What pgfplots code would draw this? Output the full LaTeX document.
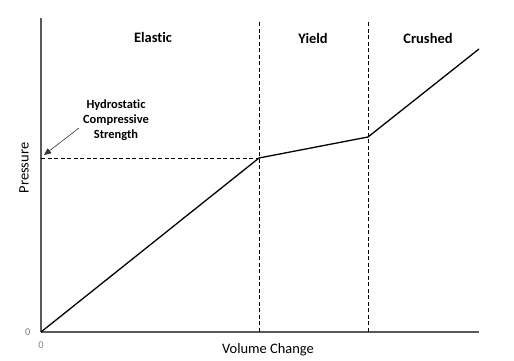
\documentclass[border=0pt]{standalone}
\usepackage{pgfplots}
\pgfplotsset{compat=1.18}
\usetikzlibrary{arrows.meta}
\usepackage{fontspec}
\setmainfont{Carlito}[Ligatures=NoCommon]
\begin{document}
\begin{tikzpicture}
\useasboundingbox (-41bp,-29bp) rectangle (473bp,332bp);
\begin{axis}[
  scale only axis, width=438bp, height=314bp,
  at={(0,0)}, anchor=south west,
  xmin=0, xmax=438, ymin=0, ymax=314,
  axis x line*=bottom, axis y line*=left,
  axis line style={black!65, line width=1.4bp},
  xtick={0}, ytick={0},
  major tick length=3bp,
  tick style={black!65, line width=1bp},
  /pgf/number format/assume math mode=true,
  ticklabel style={black!50, font=\fontsize{10.5}{11}\selectfont},
  xticklabel style={yshift=-6bp},
  yticklabel style={xshift=-7bp},
  clip=false,
]
% elastic / yield / crushed curve
\addplot[black, line width=1.3bp] coordinates {(0,0) (218,174) (327,195) (438,283)};
% region boundaries
\addplot[black, line width=0.9bp, dash pattern=on 4bp off 2.5bp] coordinates {(218,0) (218,312)};
\addplot[black, line width=0.9bp, dash pattern=on 4bp off 2.5bp] coordinates {(327,0) (327,312)};
\addplot[black, line width=0.9bp, dash pattern=on 4bp off 2.5bp] coordinates {(0,174) (218,174)};
% annotations
\node[font=\fontsize{14.5}{16}\selectfont\bfseries] at (axis cs:112,295) {Elastic};
\node[font=\fontsize{14.5}{16}\selectfont\bfseries] at (axis cs:272,294) {Yield};
\node[font=\fontsize{14.5}{16}\selectfont\bfseries] at (axis cs:387,294) {Crushed};
\node[font=\fontsize{12.5}{15}\selectfont\bfseries, align=center] at (axis cs:75,212) {Hydrostatic\\Compressive\\Strength};
\draw[black!80, line width=0.6bp, -{Triangle[length=7bp,width=6bp]}] (axis cs:38,204) -- (axis cs:3,177);
\node[font=\fontsize{14.5}{16}\selectfont] at (axis cs:227,-18) {Volume Change};
\node[font=\fontsize{14.5}{16}\selectfont, rotate=90] at (axis cs:-17,164) {Pressure};
\end{axis}
\end{tikzpicture}
\end{document}
